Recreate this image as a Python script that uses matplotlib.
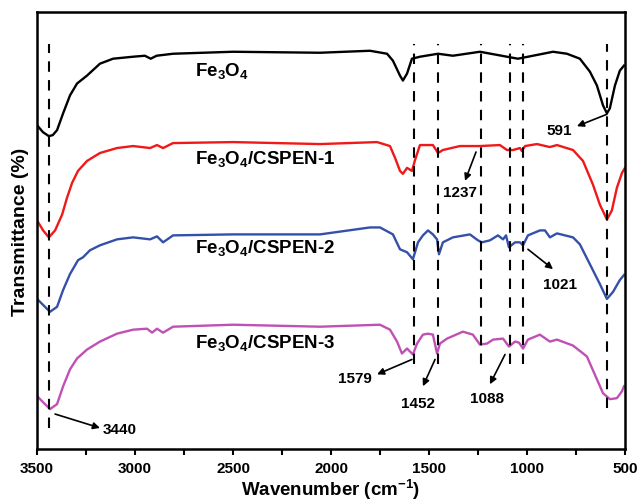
"""FT-IR spectra of Fe3O4 and the Fe3O4/CSPEN composites (stacked, offset)."""
import matplotlib
matplotlib.use("Agg")
import matplotlib.pyplot as plt
from matplotlib.ticker import MultipleLocator

plt.rcParams["font.family"] = ["Liberation Sans", "DejaVu Sans"]
plt.rcParams["font.weight"] = "bold"
plt.rcParams["mathtext.fontset"] = "custom"
plt.rcParams["mathtext.rm"] = "Liberation Sans:bold"
plt.rcParams["mathtext.it"] = "Liberation Sans:bold"
plt.rcParams["mathtext.bf"] = "Liberation Sans:bold"

# ---- spectra (wavenumber, offset transmittance in arbitrary units) ----
fe3o4_wn = [3500, 3470, 3440, 3420, 3398, 3367, 3332, 3296, 3245, 3179, 3112,
            3010, 2950, 2920, 2890, 2806, 2500, 2056, 1801, 1714, 1684, 1648,
            1633, 1612, 1587, 1546, 1454, 1378, 1240, 1102, 1046, 969, 867,
            796, 730, 679, 643, 612, 592, 577, 551, 526, 505]
fe3o4_t = [326, 319, 315, 316, 321, 338, 356, 368, 376, 388, 393,
           395, 396, 393, 396, 398, 400, 399, 401, 398, 391, 376,
           371, 378, 393, 395, 398, 396, 400, 395, 393, 396, 400,
           398, 393, 380, 366, 346, 338, 343, 366, 381, 386]

cspen1_wn = [3500, 3469, 3440, 3408, 3372, 3347, 3321, 3291, 3245, 3179, 3092,
             3010, 2923, 2888, 2857, 2806, 2500, 2056, 1765, 1699, 1673, 1648,
             1633, 1612, 1587, 1571, 1546, 1480, 1454, 1429, 1342, 1240, 1138,
             1102, 1071, 1036, 1026, 1010, 949, 883, 847, 765, 714, 663, 628,
             592, 567, 541, 515, 500]
cspen1_t = [230, 220, 213, 220, 236, 253, 268, 280, 290, 298, 303,
            305, 303, 306, 303, 308, 309, 307, 309, 305, 293, 280,
            277, 283, 280, 291, 306, 306, 298, 301, 305, 305, 306,
            301, 301, 303, 300, 305, 307, 304, 306, 301, 290, 266, 246,
            231, 240, 263, 278, 283]

cspen2_wn = [3500, 3434, 3398, 3367, 3332, 3291, 3265, 3230, 3179, 3092, 3010,
             2923, 2888, 2857, 2806, 2500, 2056, 1801, 1750, 1684, 1648, 1612,
             1582, 1556, 1531, 1505, 1480, 1459, 1449, 1429, 1378, 1291, 1250,
             1230, 1189, 1148, 1122, 1107, 1092, 1061, 1036, 1020, 995, 934,
             908, 883, 847, 765, 730, 679, 628, 592, 561, 526, 505]
cspen2_t = [151, 138, 143, 160, 176, 190, 193, 200, 205, 211, 213,
            211, 214, 208, 215, 216, 216, 223, 223, 216, 201, 198,
            191, 208, 215, 220, 216, 211, 196, 208, 213, 216, 210,
            208, 210, 215, 211, 215, 203, 208, 208, 205, 215, 220,
            220, 213, 217, 213, 206, 186, 166, 151, 158, 170, 175]

cspen3_wn = [3500, 3434, 3398, 3367, 3332, 3296, 3245, 3179, 3092, 3010, 2939,
             2913, 2888, 2857, 2806, 2500, 2056, 1750, 1699, 1663, 1638, 1612,
             1582, 1561, 1531, 1505, 1480, 1459, 1444, 1408, 1327, 1276, 1240,
             1204, 1173, 1122, 1092, 1061, 1041, 1020, 995, 934, 883, 847, 765,
             694, 643, 612, 577, 541, 515, 505]
cspen3_t = [53, 40, 45, 63, 80, 91, 100, 108, 116, 120, 121,
            117, 121, 117, 123, 125, 123, 125, 120, 108, 96, 101,
            95, 106, 115, 116, 115, 96, 106, 111, 118, 115, 105,
            106, 110, 111, 103, 108, 107, 101, 110, 115, 108, 110, 104,
            93, 70, 56, 50, 51, 58, 63]

series_names = ["Fe$_3$O$_4$", "Fe$_3$O$_4$/CSPEN-1",
                "Fe$_3$O$_4$/CSPEN-2", "Fe$_3$O$_4$/CSPEN-3"]
label_t = [382, 293, 203, 108]

# marked bands and the annotated labels
bands = [3440, 1579, 1452, 1237, 1088, 1021, 591]
band_top = [408, 408, 408, 408, 408, 408, 408]
band_bottom = [21, 85, 85, 85, 85, 85, 41]

notes = ["591", "1237", "1021", "1579", "1452", "1088", "3440"]
note_tail = [(592, 337), (1260, 299), (995, 201), (1587, 90),
             (1469, 90), (1112, 95), (3408, 35)]
note_head = [(745, 325), (1316, 270), (867, 181), (1765, 75),
             (1531, 63), (1189, 65), (3179, 21)]
note_text = [(835, 321), (1342, 259), (832, 166), (1878, 71),
             (1556, 46), (1204, 51), (3077, 20)]

COLORS = ["#000000", "#f01818", "#3550a8", "#c050b4"]


def main():
    fig = plt.figure(figsize=(6.39, 5.02), dpi=100)
    ax = fig.add_axes([0.058, 0.104, 0.920, 0.870])

    spectra = [(fe3o4_wn, fe3o4_t), (cspen1_wn, cspen1_t),
               (cspen2_wn, cspen2_t), (cspen3_wn, cspen3_t)]
    for (wn, t), c in zip(spectra, COLORS):
        ax.plot(wn, t, color=c, lw=1.7)

    for name, ty in zip(series_names, label_t):
        ax.text(2694, ty, name, fontsize=13.5, fontweight="bold",
                ha="left", va="center")

    for wn, lo, hi in zip(bands, band_bottom, band_top):
        ax.plot([wn, wn], [lo, hi], color="k", lw=1.5, dashes=(5, 4))

    for s, tail, head, pos in zip(notes, note_tail, note_head, note_text):
        ax.annotate("", xy=head, xytext=tail,
                    arrowprops=dict(arrowstyle="-|>", color="k", lw=1.2,
                                    mutation_scale=10, shrinkA=0, shrinkB=0))
        ax.text(pos[0], pos[1], s, fontsize=11, fontweight="bold",
                ha="center", va="center")

    ax.set_xlim(3500, 500)
    ax.set_ylim(0, 440)
    ax.xaxis.set_major_locator(MultipleLocator(500))
    ax.xaxis.set_minor_locator(MultipleLocator(250))
    ax.tick_params(axis="x", which="both", direction="out", length=4,
                   width=1.5, labelsize=11, pad=5)
    ax.tick_params(axis="y", left=False, labelleft=False)
    for sp in ax.spines.values():
        sp.set_linewidth(1.8)

    ax.set_xlabel("Wavenumber (cm$^{-1}$)", fontsize=13.5, fontweight="bold",
                  labelpad=1)
    ax.set_ylabel("Transmittance (%)", fontsize=14, fontweight="bold",
                  labelpad=6)

    fig.savefig("out.png", dpi=100)


if __name__ == "__main__":
    main()
